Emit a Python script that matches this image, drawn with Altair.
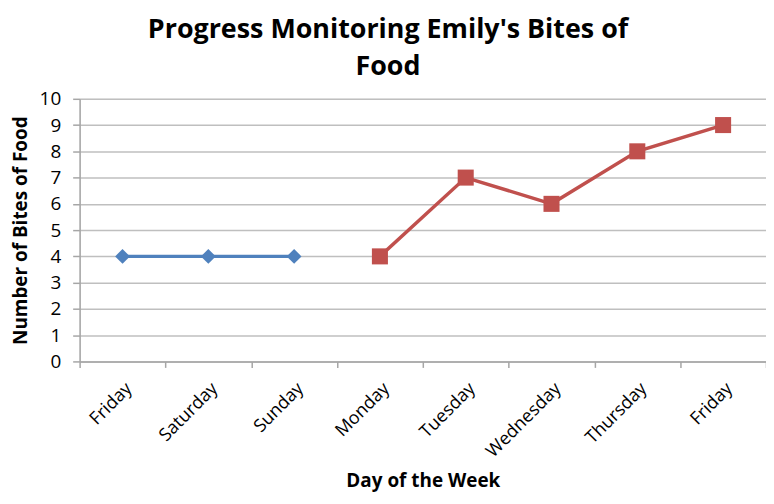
import altair as alt
import pandas as pd

days = ["Friday", "Saturday", "Sunday", "Monday", "Tuesday", "Wednesday", "Thursday", "Friday"]
baseline = [4, 4, 4, None, None, None, None, None]
intervention = [None, None, None, 4, 7, 6, 8, 9]

rows = []
for i, d in enumerate(days):
    if baseline[i] is not None:
        rows.append({"pos": i, "day": d, "bites": baseline[i], "phase": "Baseline"})
    if intervention[i] is not None:
        rows.append({"pos": i, "day": d, "bites": intervention[i], "phase": "Intervention"})
df = pd.DataFrame(rows)

label_expr = "[" + ",".join("'" + d + "'" for d in days) + "][datum.value]"

W = 690
H = 264

x_enc = alt.X(
    "pos:O",
    scale=alt.Scale(domain=list(range(len(days))), paddingInner=0, paddingOuter=0),
    axis=alt.Axis(
        title="Day of the Week",
        labelExpr=label_expr,
        labelAngle=-45,
        labelFontSize=18,
        labelFont="Open Sans",
        labelColor="#000000",
        labelPadding=12,
        tickBand="extent",
        tickColor="#A6A6A6",
        tickSize=6,
        tickWidth=1.5,
        domainColor="#A6A6A6",
        domainWidth=1.5,
        grid=False,
        titleFont="Open Sans",
        titleFontSize=19,
        titleFontWeight="bold",
        titleColor="#000000",
        titlePadding=11,
    ),
)
y_enc = alt.Y(
    "bites:Q",
    scale=alt.Scale(domain=[0, 10]),
    axis=alt.Axis(
        title="Number of Bites of Food",
        values=list(range(0, 11)),
        labelFontSize=19,
        labelFont="Open Sans",
        labelColor="#000000",
        labelPadding=12,
        tickColor="#A6A6A6",
        tickSize=7,
        tickWidth=1.5,
        domainColor="#A6A6A6",
        domainWidth=1.5,
        gridColor="#BFBFBF",
        gridWidth=1.5,
        titleFont="Open Sans",
        titleFontSize=19,
        titleFontWeight="bold",
        titleColor="#000000",
        titlePadding=9,
    ),
)

color = alt.Color(
    "phase:N",
    scale=alt.Scale(domain=["Baseline", "Intervention"], range=["#4F81BD", "#C0504D"]),
    legend=None,
)
shape = alt.Shape(
    "phase:N",
    scale=alt.Scale(domain=["Baseline", "Intervention"], range=["diamond", "square"]),
    legend=None,
)
size = alt.Size(
    "phase:N",
    scale=alt.Scale(domain=["Baseline", "Intervention"], range=[220, 260]),
    legend=None,
)

base = alt.Chart(df)
lines = base.mark_line(strokeWidth=3.5).encode(x=x_enc, y=y_enc, color=color, detail="phase:N")
points = base.mark_point(filled=True, opacity=1).encode(
    x=x_enc, y=y_enc, color=color, shape=shape, size=size
)

chart = (
    alt.layer(lines, points)
    .properties(
        width=W,
        height=H,
        title=alt.TitleParams(
            text=["Progress Monitoring Emily's Bites of", "Food"],
            font="Open Sans",
            fontSize=27,
            fontWeight="bold",
            color="#000000",
            lineHeight=37,
            anchor="middle",
            dx=-35,
            offset=9,
        ),
        autosize=alt.AutoSizeParams(type="none"),
        padding={"left": 72, "top": 90, "right": 0, "bottom": 134},
    )
    .configure_view(stroke=None)
    .configure(background="white")
)

chart.save("out.html", embed_options={"renderer": "svg", "actions": False})
